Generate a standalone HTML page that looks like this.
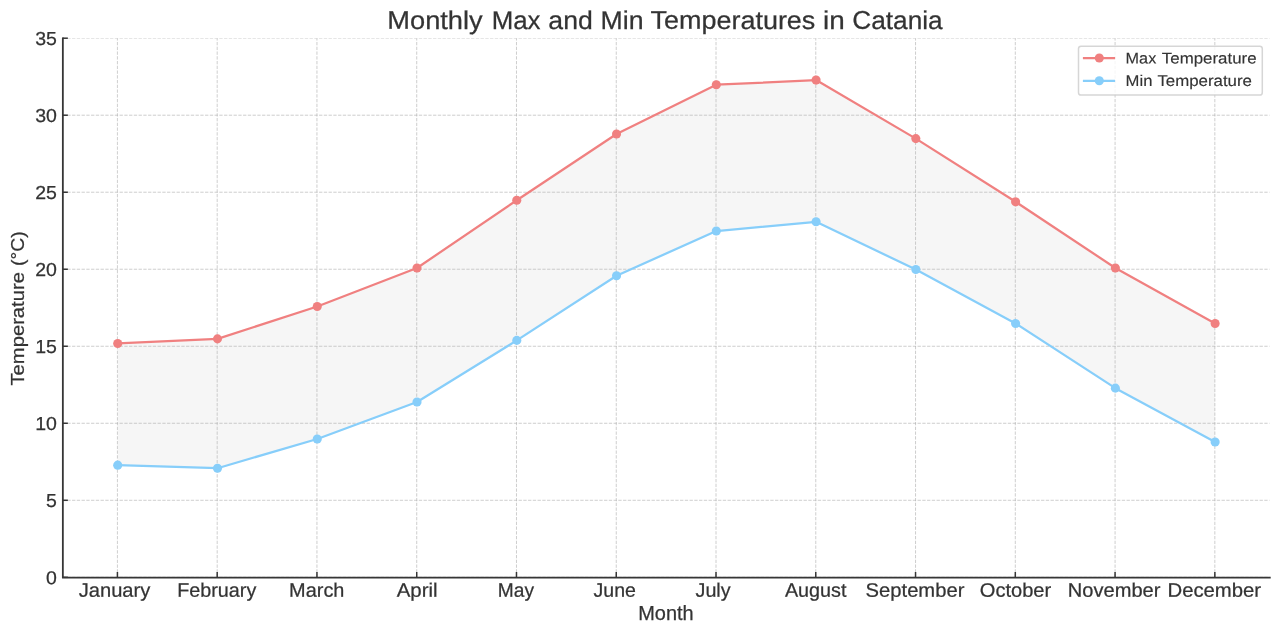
<!DOCTYPE html>
<html lang="en"><head><meta charset="utf-8"><title>Monthly Max and Min Temperatures in Catania</title>
<style>
html,body{margin:0;padding:0;background:#fff;}
body{width:1280px;height:635px;overflow:hidden;}
svg{display:block;}
text{font-family:"Liberation Sans",sans-serif;fill:#333333;}
.grid line{stroke:#b0b0b0;stroke-width:0.95;stroke-opacity:0.66;stroke-dasharray:3.32 1.43;}
.tick line{stroke:#363636;stroke-width:1.5;}
.txt{opacity:0.999;}
.txt text{stroke:#333333;stroke-width:0.25px;}
.tl{font-size:19.5px;}
.yl{font-size:19.2px;}
.tn{font-size:18.8px;}
.lg{font-size:15.6px;}
.tt{font-size:25.6px;}
.txt text.lg{stroke-width:0.15px;}
</style></head><body>
<svg width="1280" height="635" viewBox="0 0 1280 635">
<rect x="0" y="0" width="1280" height="635" fill="#ffffff"/>
<polygon fill="#f6f6f6" points="117.72,343.48 217.49,338.86 317.25,306.51 417.02,268 516.78,200.23 616.54,134 716.31,84.71 816.07,80.09 915.84,138.62 1015.6,201.77 1115.37,268 1215.13,323.45 1215.13,442.05 1115.37,388.14 1015.6,323.45 915.84,269.54 816.07,221.79 716.31,231.04 616.54,275.7 516.78,340.4 417.02,402.01 317.25,438.97 217.49,468.24 117.72,465.16"/>
<clipPath id="axclip"><rect x="62.55" y="38.2" width="1207.15" height="539.1"/></clipPath>
<g class="grid" clip-path="url(#axclip)">
<line x1="117.42" y1="577.3" x2="117.42" y2="38.2"/>
<line x1="217.19" y1="577.3" x2="217.19" y2="38.2"/>
<line x1="316.95" y1="577.3" x2="316.95" y2="38.2"/>
<line x1="416.72" y1="577.3" x2="416.72" y2="38.2"/>
<line x1="516.48" y1="577.3" x2="516.48" y2="38.2"/>
<line x1="616.25" y1="577.3" x2="616.25" y2="38.2"/>
<line x1="716.01" y1="577.3" x2="716.01" y2="38.2"/>
<line x1="815.77" y1="577.3" x2="815.77" y2="38.2"/>
<line x1="915.54" y1="577.3" x2="915.54" y2="38.2"/>
<line x1="1015.3" y1="577.3" x2="1015.3" y2="38.2"/>
<line x1="1115.07" y1="577.3" x2="1115.07" y2="38.2"/>
<line x1="1214.84" y1="577.3" x2="1214.84" y2="38.2"/>
<line x1="62.55" y1="577.3" x2="1269.7" y2="577.3"/>
<line x1="62.55" y1="500.29" x2="1269.7" y2="500.29"/>
<line x1="62.55" y1="423.27" x2="1269.7" y2="423.27"/>
<line x1="62.55" y1="346.26" x2="1269.7" y2="346.26"/>
<line x1="62.55" y1="269.24" x2="1269.7" y2="269.24"/>
<line x1="62.55" y1="192.23" x2="1269.7" y2="192.23"/>
<line x1="62.55" y1="115.21" x2="1269.7" y2="115.21"/>
<line x1="62.55" y1="38.2" x2="1269.7" y2="38.2"/>
</g>
<polyline fill="none" stroke="#f08080" stroke-width="2.25" stroke-linejoin="round" stroke-linecap="butt" points="117.72,343.48 217.49,338.86 317.25,306.51 417.02,268 516.78,200.23 616.54,134 716.31,84.71 816.07,80.09 915.84,138.62 1015.6,201.77 1115.37,268 1215.13,323.45"/>
<g fill="#f08080">
<circle cx="117.72" cy="343.48" r="4.55"/>
<circle cx="217.49" cy="338.86" r="4.55"/>
<circle cx="317.25" cy="306.51" r="4.55"/>
<circle cx="417.02" cy="268" r="4.55"/>
<circle cx="516.78" cy="200.23" r="4.55"/>
<circle cx="616.54" cy="134" r="4.55"/>
<circle cx="716.31" cy="84.71" r="4.55"/>
<circle cx="816.07" cy="80.09" r="4.55"/>
<circle cx="915.84" cy="138.62" r="4.55"/>
<circle cx="1015.6" cy="201.77" r="4.55"/>
<circle cx="1115.37" cy="268" r="4.55"/>
<circle cx="1215.13" cy="323.45" r="4.55"/>
</g>
<polyline fill="none" stroke="#87cefa" stroke-width="2.25" stroke-linejoin="round" stroke-linecap="butt" points="117.72,465.16 217.49,468.24 317.25,438.97 417.02,402.01 516.78,340.4 616.54,275.7 716.31,231.04 816.07,221.79 915.84,269.54 1015.6,323.45 1115.37,388.14 1215.13,442.05"/>
<g fill="#87cefa">
<circle cx="117.72" cy="465.16" r="4.55"/>
<circle cx="217.49" cy="468.24" r="4.55"/>
<circle cx="317.25" cy="438.97" r="4.55"/>
<circle cx="417.02" cy="402.01" r="4.55"/>
<circle cx="516.78" cy="340.4" r="4.55"/>
<circle cx="616.54" cy="275.7" r="4.55"/>
<circle cx="716.31" cy="231.04" r="4.55"/>
<circle cx="816.07" cy="221.79" r="4.55"/>
<circle cx="915.84" cy="269.54" r="4.55"/>
<circle cx="1015.6" cy="323.45" r="4.55"/>
<circle cx="1115.37" cy="388.14" r="4.55"/>
<circle cx="1215.13" cy="442.05" r="4.55"/>
</g>
<g class="tick">
<line x1="117.42" y1="577.3" x2="117.42" y2="572"/>
<line x1="217.19" y1="577.3" x2="217.19" y2="572"/>
<line x1="316.95" y1="577.3" x2="316.95" y2="572"/>
<line x1="416.72" y1="577.3" x2="416.72" y2="572"/>
<line x1="516.48" y1="577.3" x2="516.48" y2="572"/>
<line x1="616.25" y1="577.3" x2="616.25" y2="572"/>
<line x1="716.01" y1="577.3" x2="716.01" y2="572"/>
<line x1="815.77" y1="577.3" x2="815.77" y2="572"/>
<line x1="915.54" y1="577.3" x2="915.54" y2="572"/>
<line x1="1015.3" y1="577.3" x2="1015.3" y2="572"/>
<line x1="1115.07" y1="577.3" x2="1115.07" y2="572"/>
<line x1="1214.84" y1="577.3" x2="1214.84" y2="572"/>
<line x1="62.55" y1="577.3" x2="67.85" y2="577.3"/>
<line x1="62.55" y1="500.29" x2="67.85" y2="500.29"/>
<line x1="62.55" y1="423.27" x2="67.85" y2="423.27"/>
<line x1="62.55" y1="346.26" x2="67.85" y2="346.26"/>
<line x1="62.55" y1="269.24" x2="67.85" y2="269.24"/>
<line x1="62.55" y1="192.23" x2="67.85" y2="192.23"/>
<line x1="62.55" y1="115.21" x2="67.85" y2="115.21"/>
<line x1="62.55" y1="38.2" x2="67.85" y2="38.2"/>
</g>
<path d="M62.85 37.45 V577.55 H1270.7" fill="none" stroke="#363636" stroke-width="1.8" stroke-linecap="butt" stroke-linejoin="miter"/>
<rect x="1078.5" y="46.2" width="183.8" height="48.9" rx="2.6" ry="2.6" fill="#ffffff" fill-opacity="0.8" stroke="#cccccc" stroke-opacity="0.8" stroke-width="1.5"/>
<line x1="1082.9" y1="58.05" x2="1115.1" y2="58.05" stroke="#f08080" stroke-width="2.25"/>
<circle cx="1099.3" cy="58.05" r="4.55" fill="#f08080"/>
<line x1="1082.9" y1="80.8" x2="1115.1" y2="80.8" stroke="#87cefa" stroke-width="2.25"/>
<circle cx="1099.3" cy="80.8" r="4.55" fill="#87cefa"/>
<g class="txt">
<text class="tn" transform="rotate(0.03 51.51 584.15)" x="51.51" y="584.15" text-anchor="middle" textLength="10.83" lengthAdjust="spacingAndGlyphs">0</text>
<text class="tn" transform="rotate(0.03 51.51 507.14)" x="51.51" y="507.14" text-anchor="middle" textLength="10.83" lengthAdjust="spacingAndGlyphs">5</text>
<text class="tn" transform="rotate(0.03 46.09 430.12)" x="46.09" y="430.12" text-anchor="middle" textLength="21.67" lengthAdjust="spacingAndGlyphs">10</text>
<text class="tn" transform="rotate(0.03 46.09 353.11)" x="46.09" y="353.11" text-anchor="middle" textLength="21.67" lengthAdjust="spacingAndGlyphs">15</text>
<text class="tn" transform="rotate(0.03 46.09 276.09)" x="46.09" y="276.09" text-anchor="middle" textLength="21.67" lengthAdjust="spacingAndGlyphs">20</text>
<text class="tn" transform="rotate(0.03 46.09 199.08)" x="46.09" y="199.08" text-anchor="middle" textLength="21.67" lengthAdjust="spacingAndGlyphs">25</text>
<text class="tn" transform="rotate(0.03 46.09 122.06)" x="46.09" y="122.06" text-anchor="middle" textLength="21.67" lengthAdjust="spacingAndGlyphs">30</text>
<text class="tn" transform="rotate(0.03 46.09 45.05)" x="46.09" y="45.05" text-anchor="middle" textLength="21.67" lengthAdjust="spacingAndGlyphs">35</text>
<text class="tl" transform="rotate(0.03 114.5 596.8)" x="114.5" y="596.8" text-anchor="middle" textLength="71.58" lengthAdjust="spacingAndGlyphs">January</text>
<text class="tl" transform="rotate(0.03 216.78 596.8)" x="216.78" y="596.8" text-anchor="middle" textLength="78.95" lengthAdjust="spacingAndGlyphs">February</text>
<text class="tl" transform="rotate(0.03 316.78 596.8)" x="316.78" y="596.8" text-anchor="middle" textLength="55.29" lengthAdjust="spacingAndGlyphs">March</text>
<text class="tl" transform="rotate(0.03 417.17 596.8)" x="417.17" y="596.8" text-anchor="middle" textLength="40.83" lengthAdjust="spacingAndGlyphs">April</text>
<text class="tl" transform="rotate(0.03 515.91 596.8)" x="515.91" y="596.8" text-anchor="middle" textLength="36.17" lengthAdjust="spacingAndGlyphs">May</text>
<text class="tl" transform="rotate(0.03 614.78 596.8)" x="614.78" y="596.8" text-anchor="middle" textLength="42.33" lengthAdjust="spacingAndGlyphs">June</text>
<text class="tl" transform="rotate(0.03 713.08 596.8)" x="713.08" y="596.8" text-anchor="middle" textLength="35.1" lengthAdjust="spacingAndGlyphs">July</text>
<text class="tl" transform="rotate(0.03 815.65 596.8)" x="815.65" y="596.8" text-anchor="middle" textLength="61.48" lengthAdjust="spacingAndGlyphs">August</text>
<text class="tl" transform="rotate(0.03 915 596.8)" x="915" y="596.8" text-anchor="middle" textLength="98.79" lengthAdjust="spacingAndGlyphs">September</text>
<text class="tl" transform="rotate(0.03 1015.49 596.8)" x="1015.49" y="596.8" text-anchor="middle" textLength="71.34" lengthAdjust="spacingAndGlyphs">October</text>
<text class="tl" transform="rotate(0.03 1114.13 596.8)" x="1114.13" y="596.8" text-anchor="middle" textLength="92.52" lengthAdjust="spacingAndGlyphs">November</text>
<text class="tl" transform="rotate(0.03 1214.31 596.8)" x="1214.31" y="596.8" text-anchor="middle" textLength="93.61" lengthAdjust="spacingAndGlyphs">December</text>
<text class="tl" transform="rotate(0.03 665.97 620.4)" x="665.97" y="620.4" text-anchor="middle" textLength="55.44" lengthAdjust="spacingAndGlyphs">Month</text>
<text class="yl" transform="translate(24.3 328.8) rotate(-90)" x="0" y="0" text-anchor="middle" textLength="113.46" lengthAdjust="spacingAndGlyphs">Temperature</text>
<text class="yl" transform="translate(24.3 248.64) rotate(-90)" x="0" y="0" text-anchor="middle" textLength="34.57" lengthAdjust="spacingAndGlyphs">(°C)</text>
<text class="tt" transform="rotate(0.03 434.99 28.9)" x="434.99" y="28.9" text-anchor="middle" textLength="95.37" lengthAdjust="spacingAndGlyphs">Monthly</text>
<text class="tt" transform="rotate(0.03 516.1 28.9)" x="516.1" y="28.9" text-anchor="middle" textLength="48.86" lengthAdjust="spacingAndGlyphs">Max</text>
<text class="tt" transform="rotate(0.03 570.6 28.9)" x="570.6" y="28.9" text-anchor="middle" textLength="44.43" lengthAdjust="spacingAndGlyphs">and</text>
<text class="tt" transform="rotate(0.03 621.98 28.9)" x="621.98" y="28.9" text-anchor="middle" textLength="42.99" lengthAdjust="spacingAndGlyphs">Min</text>
<text class="tt" transform="rotate(0.03 732.92 28.9)" x="732.92" y="28.9" text-anchor="middle" textLength="164.86" lengthAdjust="spacingAndGlyphs">Temperatures</text>
<text class="tt" transform="rotate(0.03 833.92 28.9)" x="833.92" y="28.9" text-anchor="middle" textLength="21.69" lengthAdjust="spacingAndGlyphs">in</text>
<text class="tt" transform="rotate(0.03 897.51 28.9)" x="897.51" y="28.9" text-anchor="middle" textLength="90.43" lengthAdjust="spacingAndGlyphs">Catania</text>
<text class="lg" transform="rotate(0.03 1140.94 63.45)" x="1140.94" y="63.45" text-anchor="middle" textLength="30.69" lengthAdjust="spacingAndGlyphs">Max</text>
<text class="lg" transform="rotate(0.03 1209.19 63.45)" x="1209.19" y="63.45" text-anchor="middle" textLength="94.68" lengthAdjust="spacingAndGlyphs">Temperature</text>
<text class="lg" transform="rotate(0.03 1139.08 86.05)" x="1139.08" y="86.05" text-anchor="middle" textLength="26.88" lengthAdjust="spacingAndGlyphs">Min</text>
<text class="lg" transform="rotate(0.03 1204.66 86.05)" x="1204.66" y="86.05" text-anchor="middle" textLength="94.53" lengthAdjust="spacingAndGlyphs">Temperature</text>
</g>
</svg>
</body></html>
